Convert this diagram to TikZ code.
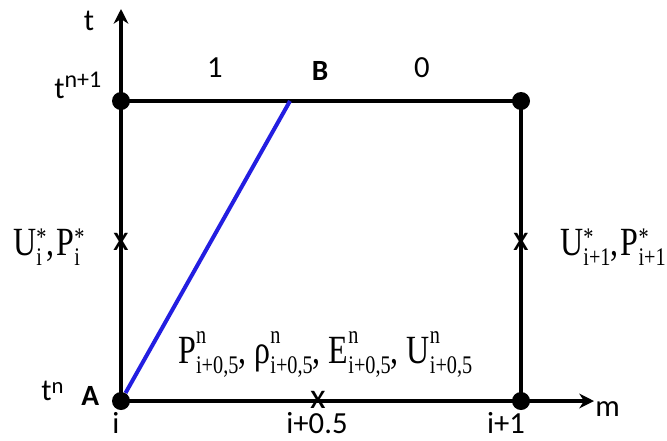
\documentclass[tikz,border=0pt]{standalone}
\usepackage{fontspec}
\setmainfont{Carlito}
\newfontfamily\tms{Liberation Serif}
\usepackage{xcolor}
\usetikzlibrary{arrows.meta}
\definecolor{seg}{RGB}{35,30,225}
\newcommand\sms{\fontsize{19}{19}\selectfont}
% base with sub and sup stacked
\newcommand\ssc[4]{#1{\sms\setbox0\hbox{\raisebox{#4}{#3}}\setbox2\hbox{\raisebox{-7.5pt}{#2}}%
  \ifdim\wd0>\wd2 \rlap{\box2}\box0\else\rlap{\box0}\box2\fi}}

\begin{document}
\begin{tikzpicture}[x=0.75pt, y=-0.75pt,
  ln/.style={line width=2.4pt, black},
  ax/.style={line width=2.4pt, -{Stealth[length=11pt, width=11pt, inset=3.5pt]}},
  bl/.style={line width=3pt, seg},
  pt/.style={circle, fill=black, inner sep=0pt, minimum size=13.5pt},
  lb/.style={font=\fontsize{23}{23}\selectfont, inner sep=0pt},
  bb/.style={font=\fontsize{22}{22}\selectfont\bfseries, inner sep=0pt},
  cr/.style={font=\fontsize{27}{27}\selectfont, inner sep=0pt},
  mt/.style={font=\tms\fontsize{30}{30}\selectfont, inner sep=0pt}]
\useasboundingbox (0,0) rectangle (667,440);
\node[pt] (A) at (121,401) {};
\node[pt] (tl) at (121,101) {};
\node[pt] (tr) at (521,101) {};
\node[pt] (br) at (521,401) {};
\coordinate (B) at (290,101);
\coordinate (tEnd) at (121,9);
\coordinate (mEnd) at (594,401);
\draw[ax] (A.center) -- (tEnd);
\draw[ax] (A.center) -- (mEnd);
\draw[ln] (tl.center) -- (tr.center) -- (br.center);
\draw[bl] (A) -- (B);
% crosses
\node[cr] (xl) at (121,242) {x};
\node[cr] (xr) at (521,242) {x};
\node[cr] (xb) at (318,400) {x};
% axis labels
\node[lb, anchor=base] (tlab) at (89,30) {t};
\node[lb, anchor=base west] (tn1) at (54,98) {t\raisebox{8pt}{\fontsize{18}{18}\selectfont n+1}};
\node[lb, anchor=base west] (tn) at (41,400) {t\raisebox{5pt}{\fontsize{17}{17}\selectfont n}};
\node[bb, anchor=base west] (Alab) at (81,405) {A};
\node[bb, anchor=base] (Blab) at (320,80) {B};
\node[lb, anchor=base] (one) at (215,77) {1};
\node[lb, anchor=base] (zero) at (422,77) {0};
\node[lb, anchor=base] (ilab) at (116,433) {i};
\node[lb, anchor=base] (ihalf) at (317,433) {i+0.5};
\node[lb, anchor=base] (ione) at (506,433) {i+1};
\node[lb, anchor=base west] (mlab) at (595,416) {m};
% quantities
\node[mt, anchor=base west] (left) at (13,255)
  {\scalebox{0.8}[1]{\ssc{U}{i}{*}{7pt},\hspace{2pt}\ssc{P}{i}{*}{7pt}}};
\node[mt, anchor=base west] (right) at (560,255)
  {\scalebox{0.8}[1]{\ssc{U}{i+1}{*}{7pt},\hspace{2pt}\ssc{P}{i+1}{*}{7pt}}};
\node[mt, anchor=base west] (cell) at (178,363)
  {\scalebox{0.8}[1]{\ssc{P}{i+0,5}{n}{15pt}, \ssc{ρ}{i+0,5}{n}{15pt}, \ssc{E}{i+0,5}{n}{15pt}, \ssc{U}{i+0,5}{n}{15pt}}};
\end{tikzpicture}
\end{document}
